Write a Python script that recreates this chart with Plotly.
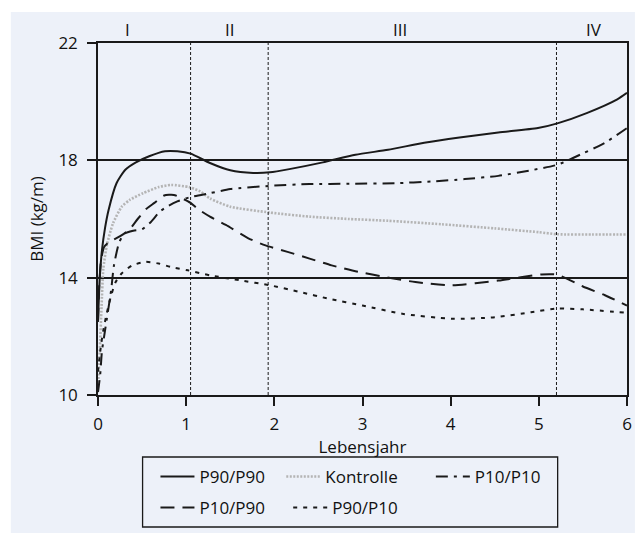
import plotly.graph_objects as go

# ---------------- data ----------------
x_p90p90 = [0, 0.02, 0.045, 0.08, 0.12, 0.21, 0.31, 0.43, 0.58, 0.76, 0.9, 1.05, 1.27, 1.5, 1.76,
            1.95, 2.17, 2.55, 2.92, 3.29, 3.7, 4.1, 4.54, 4.99, 5.21, 5.55, 5.89, 6.0]
y_p90p90 = [12.5, 14.0, 14.94, 15.7, 16.31, 17.22, 17.68, 17.93, 18.14, 18.31, 18.31, 18.23, 17.91,
            17.66, 17.57, 17.59, 17.7, 17.93, 18.19, 18.36, 18.6, 18.78, 18.95, 19.1, 19.26, 19.62,
            20.08, 20.3]

x_kontrolle = [0, 0.02, 0.04, 0.06, 0.1, 0.17, 0.27, 0.36, 0.51, 0.69, 0.83, 1.03, 1.16, 1.27, 1.5,
               1.95, 2.4, 2.85, 3.29, 3.9, 4.5, 5.0, 5.21, 5.6, 6.0]
y_kontrolle = [10.3, 11.5, 13.0, 14.3, 15.1, 15.85, 16.42, 16.65, 16.88, 17.09, 17.16, 17.09, 16.94,
               16.7, 16.42, 16.22, 16.08, 16.0, 15.94, 15.82, 15.68, 15.55, 15.48, 15.47, 15.47]

x_p10p10 = [0, 0.025, 0.045, 0.08, 0.1, 0.15, 0.18, 0.24, 0.3, 0.4, 0.5, 0.6, 0.7, 0.8, 0.9, 1.05,
            1.27, 1.5, 1.95, 2.4, 2.85, 3.37, 3.79, 4.16, 4.54, 4.91, 5.21, 5.51, 5.75, 6.0]
y_p10p10 = [10.1, 10.7, 11.5, 12.2, 12.6, 13.6, 14.4, 15.2, 15.5, 15.6, 15.65, 15.9, 16.25, 16.45,
            16.6, 16.75, 16.88, 17.02, 17.13, 17.19, 17.2, 17.22, 17.28, 17.36, 17.47, 17.66,
            17.85, 18.25, 18.6, 19.1]

x_p10p90 = [0, 0.015, 0.035, 0.07, 0.12, 0.18, 0.27, 0.36, 0.45, 0.55, 0.64, 0.75, 0.86, 0.97,
            1.05, 1.12, 1.27, 1.45, 1.7, 1.9, 2.15, 2.4, 2.65, 2.95, 3.3, 3.6, 4.01, 4.54, 5.03,
            5.21, 5.5, 5.75, 6.0]
y_p10p90 = [12.5, 13.8, 14.6, 15.05, 15.2, 15.3, 15.45, 15.65, 16.0, 16.35, 16.55, 16.8, 16.82,
            16.68, 16.55, 16.37, 16.08, 15.8, 15.35, 15.1, 14.88, 14.65, 14.42, 14.2, 14.0, 13.85,
            13.74, 13.9, 14.11, 14.1, 13.7, 13.4, 13.05]

x_p90p10 = [0, 0.03, 0.06, 0.1, 0.15, 0.2, 0.27, 0.39, 0.54, 0.69, 0.83, 1.02, 1.27, 1.61, 1.95,
            2.29, 2.62, 3.0, 3.45, 4.01, 4.5, 4.91, 5.21, 5.5, 6.0]
y_p90p10 = [10.8, 11.6, 12.2, 12.8, 13.4, 13.85, 14.15, 14.42, 14.54, 14.48, 14.36, 14.25, 14.08,
            13.91, 13.74, 13.51, 13.28, 13.05, 12.77, 12.6, 12.65, 12.82, 12.95, 12.92, 12.8]

phase_bounds = [1.05, 1.93, 5.2]
phase_labels = ["I", "II", "III", "IV"]
phase_label_x = [0.33, 1.5, 3.43, 5.62]

x_ticks = [0, 1, 2, 3, 4, 5, 6]
y_ticks = [10, 14, 18, 22]

# ---------------- figure ----------------
FONT = "Open Sans"
FS = 17
BG = "#edf1f9"
INK = "#1a1a1a"

W, H = 638, 533
ML, MR, MT, MB = 98, 6, 43, 138
PW, PH = W - ML - MR, H - MT - MB


def px2x(px):
    return (px - ML) / PW


def py2y(py):
    return (H - MB - py) / PH


fig = go.Figure()

# (name, x, y, line style, legend id, legend item origin px, row centre px)
series = [
    ("P90/P90", x_p90p90, y_p90p90, dict(color=INK, width=2, dash="solid"), "legend", 156, 477),
    ("Kontrolle", x_kontrolle, y_kontrolle, dict(color="#b4b4b4", width=2.6, dash="2px,1.5px"), "legend2", 283, 477),
    ("P10/P10", x_p10p10, y_p10p10, dict(color=INK, width=2, dash="12px,6px,3px,6px"), "legend3", 434, 477),
    ("P10/P90", x_p10p90, y_p10p90, dict(color=INK, width=2, dash="14px,8px"), "legend4", 156, 508),
    ("P90/P10", x_p90p10, y_p90p10, dict(color=INK, width=2, dash="4px,6px"), "legend5", 290, 508),
]

legends = {}
for name, xs, ys, line, lg, ox, oy in series:
    fig.add_trace(go.Scatter(x=xs, y=ys, mode="lines", name=name, showlegend=True,
                             line=dict(shape="spline", smoothing=0.6, **line),
                             legend=lg))
    legends[lg] = dict(x=px2x(ox), y=py2y(oy), xanchor="left", yanchor="middle",
                       orientation="h", bgcolor="rgba(0,0,0,0)", borderwidth=0,
                       itemwidth=34, visible=True,
                       font=dict(family=FONT, size=FS, color="#111"))

# background panel
shapes = [dict(type="rect", xref="paper", yref="paper", layer="below",
               x0=px2x(10), x1=px2x(640), y0=py2y(535), y1=py2y(12),
               fillcolor=BG, line=dict(width=0))]
# phase boundaries
for b in phase_bounds:
    shapes.append(dict(type="line", xref="x", yref="y", x0=b, x1=b, y0=10, y1=22,
                       line=dict(color=INK, width=1, dash="3px,2px")))
# legend frame
shapes.append(dict(type="rect", xref="paper", yref="paper", layer="above",
                   x0=px2x(143), x1=px2x(562), y0=py2y(527), y1=py2y(457),
                   line=dict(color=INK, width=1.3), fillcolor="rgba(0,0,0,0)"))

annotations = []
for lab, lx in zip(phase_labels, phase_label_x):
    annotations.append(dict(text=lab, x=lx, xref="x", y=1, yref="paper", yanchor="middle",
                            yshift=13.5, showarrow=False,
                            font=dict(family=FONT, size=FS, color="#111")))

fig.update_layout(
    width=W, height=H,
    margin=dict(l=ML, r=MR, t=MT, b=MB),
    paper_bgcolor="white", plot_bgcolor=BG,
    font=dict(family=FONT, size=FS, color="#111"),
    showlegend=True,
    shapes=shapes, annotations=annotations,
    **legends,
)

fig.update_xaxes(range=[0, 6], tickvals=x_ticks, ticks="outside", ticklen=9, tickwidth=1.5,
                 tickcolor=INK, showline=True, linecolor=INK, linewidth=1.5, mirror=True,
                 showgrid=False, zeroline=False, ticklabelstandoff=4,
                 title=dict(text="Lebensjahr", standoff=0, font=dict(family=FONT, size=FS)),
                 tickfont=dict(family=FONT, size=FS))
fig.update_yaxes(range=[10, 22], tickvals=y_ticks, ticks="outside", ticklen=9, tickwidth=1.5,
                 tickcolor=INK, showline=True, linecolor=INK, linewidth=1.5, mirror=True,
                 showgrid=True, gridcolor=INK, gridwidth=1.5, zeroline=False,
                 ticklabelstandoff=6,
                 title=dict(text="BMI (kg/m)", standoff=10, font=dict(family=FONT, size=FS)),
                 tickfont=dict(family=FONT, size=FS))

fig.write_html("out.html")
